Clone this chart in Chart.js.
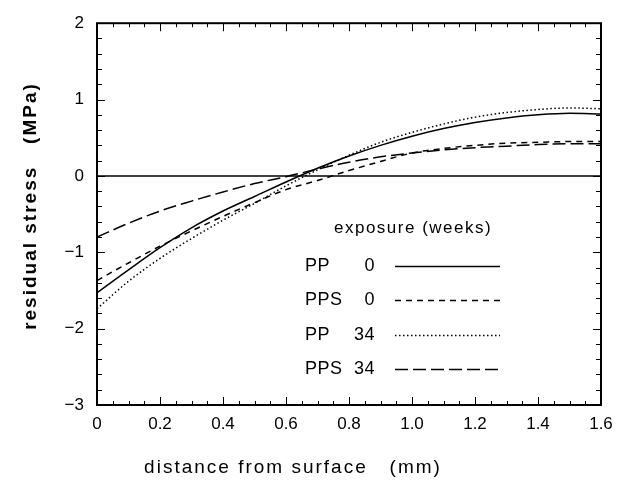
<!DOCTYPE html>
<html>
<head>
<meta charset="utf-8">
<script src="https://cdn.jsdelivr.net/npm/chart.js@4.4.1/dist/chart.umd.min.js"></script>
<style>
  html, body { margin: 0; padding: 0; background: #fff; }
</style>
</head>
<body>
<canvas id="chart" width="623" height="481"></canvas>
<script>
// distance from surface (mm)
const distance = [0, 0.1, 0.2, 0.3, 0.4, 0.5, 0.6, 0.7, 0.8, 0.9, 1.0, 1.1, 1.2, 1.3, 1.4, 1.5, 1.6];
// residual stress (MPa)
const pp0   = [-1.53, -1.23, -0.94, -0.68, -0.46, -0.27, -0.08, 0.10, 0.26, 0.40, 0.52, 0.62, 0.70, 0.76, 0.80, 0.82, 0.81];
const pps0  = [-1.37, -1.14, -0.92, -0.72, -0.53, -0.35, -0.18, -0.06, 0.07, 0.19, 0.30, 0.36, 0.40, 0.43, 0.44, 0.45, 0.45];
const pp34  = [-1.74, -1.38, -1.08, -0.82, -0.58, -0.36, -0.13, 0.08, 0.27, 0.44, 0.57, 0.68, 0.77, 0.83, 0.87, 0.89, 0.88];
const pps34 = [-0.80, -0.62, -0.46, -0.33, -0.21, -0.10, -0.01, 0.09, 0.18, 0.25, 0.30, 0.34, 0.37, 0.39, 0.41, 0.42, 0.42];

const seriesNames = ["PP", "PPS", "PP", "PPS"];
const seriesWeeks = ["0", "0", "34", "34"];
const xTickLabels = ["0", "0.2", "0.4", "0.6", "0.8", "1.0", "1.2", "1.4", "1.6"];
const yTickLabels = ["\u22123", "\u22122", "\u22121", "0", "1", "2"];

const FONT = "'Liberation Sans', Arial, sans-serif";
const dashes = [[], [6, 5], [1.5, 2.5], [13, 5]];

function pts(ys) {
  return distance.map((x, i) => ({ x: x, y: ys[i] }));
}

const datasets = [pp0, pps0, pp34, pps34].map((ys, i) => ({
  label: seriesNames[i] + " " + seriesWeeks[i],
  data: pts(ys),
  borderColor: "#000",
  borderWidth: 1.5,
  borderDash: dashes[i],
  pointRadius: 0,
  fill: false,
  tension: 0.4,
  cubicInterpolationMode: "monotone"
}));

const decor = {
  id: "decor",
  beforeDatasetsDraw(chart) {
    const ctx = chart.ctx, a = chart.chartArea, y = chart.scales.y;
    ctx.save();
    ctx.strokeStyle = "#000";
    ctx.lineWidth = 1.5;
    ctx.beginPath();
    ctx.moveTo(a.left, y.getPixelForValue(0));
    ctx.lineTo(a.right, y.getPixelForValue(0));
    ctx.stroke();
    ctx.restore();
  },
  afterDraw(chart) {
    const ctx = chart.ctx, a = chart.chartArea;
    const xs = chart.scales.x, ys = chart.scales.y;
    ctx.save();
    ctx.strokeStyle = "#000";
    // inward ticks
    ctx.lineWidth = 1;
    ctx.beginPath();
    for (let k = 0; k <= 32; k++) {
      const px = Math.round(xs.getPixelForValue(k * 0.05)) + 0.5;
      const len = k % 4 === 0 ? 8 : 4;
      ctx.moveTo(px, a.bottom); ctx.lineTo(px, a.bottom - len);
      ctx.moveTo(px, a.top); ctx.lineTo(px, a.top + len);
    }
    for (let k = 0; k <= 25; k++) {
      const py = Math.round(ys.getPixelForValue(-3 + k * 0.2)) + 0.5;
      const len = k % 5 === 0 ? 8 : 5;
      ctx.moveTo(a.left, py); ctx.lineTo(a.left + len, py);
      ctx.moveTo(a.right, py); ctx.lineTo(a.right - len, py);
    }
    ctx.stroke();
    // frame
    ctx.lineWidth = 2;
    ctx.strokeRect(a.left, a.top, a.right - a.left, a.bottom - a.top);

    // legend
    ctx.fillStyle = "#000";
    ctx.textBaseline = "middle";
    ctx.font = "17px " + FONT;
    ctx.letterSpacing = "1.5px";
    ctx.textAlign = "left";
    ctx.fillText("exposure (weeks)", 334, 228);
    const rows = [266, 300, 335, 369];
    chart.data.datasets.forEach((ds, i) => {
      ctx.letterSpacing = "0.5px";
      ctx.font = "18px " + FONT;
      ctx.textAlign = "left";
      ctx.fillText(seriesNames[i], 305, rows[i]);
      ctx.textAlign = "right";
      ctx.fillText(seriesWeeks[i], 375, rows[i]);
      ctx.lineWidth = 1.5;
      ctx.setLineDash(ds.borderDash);
      ctx.beginPath();
      ctx.moveTo(395, rows[i] + 0.5);
      ctx.lineTo(500, rows[i] + 0.5);
      ctx.stroke();
      ctx.setLineDash([]);
    });

    // axis titles
    ctx.textAlign = "center";
    ctx.letterSpacing = "2px";
    ctx.font = "19px " + FONT;
    ctx.fillText("distance from surface   (mm)", 293, 468);
    ctx.translate(31, 206);
    ctx.rotate(-Math.PI / 2);
    ctx.font = "bold 19px " + FONT;
    ctx.fillText("residual stress   (MPa)", 0, 0);
    ctx.restore();
  }
};

new Chart(document.getElementById("chart"), {
  type: "line",
  data: { datasets: datasets },
  options: {
    responsive: false,
    animation: false,
    layout: { padding: { left: 0, right: 22, top: 19, bottom: 0 } },
    plugins: { legend: { display: false }, tooltip: { enabled: false } },
    scales: {
      x: {
        type: "linear",
        min: 0,
        max: 1.6,
        grid: { display: false, drawTicks: false },
        border: { display: false },
        afterFit(s) { s.height = 76; },
        ticks: {
          stepSize: 0.2,
          padding: 9,
          color: "#000",
          font: { family: FONT, size: 17 },
          callback: (v, i) => xTickLabels[i]
        }
      },
      y: {
        min: -3,
        max: 2,
        grid: { display: false, drawTicks: false },
        border: { display: false },
        afterFit(s) { s.width = 97; },
        ticks: {
          stepSize: 1,
          padding: 13,
          color: "#000",
          font: { family: FONT, size: 17 },
          callback: (v, i) => yTickLabels[i]
        }
      }
    }
  },
  plugins: [decor]
});
</script>
</body>
</html>
